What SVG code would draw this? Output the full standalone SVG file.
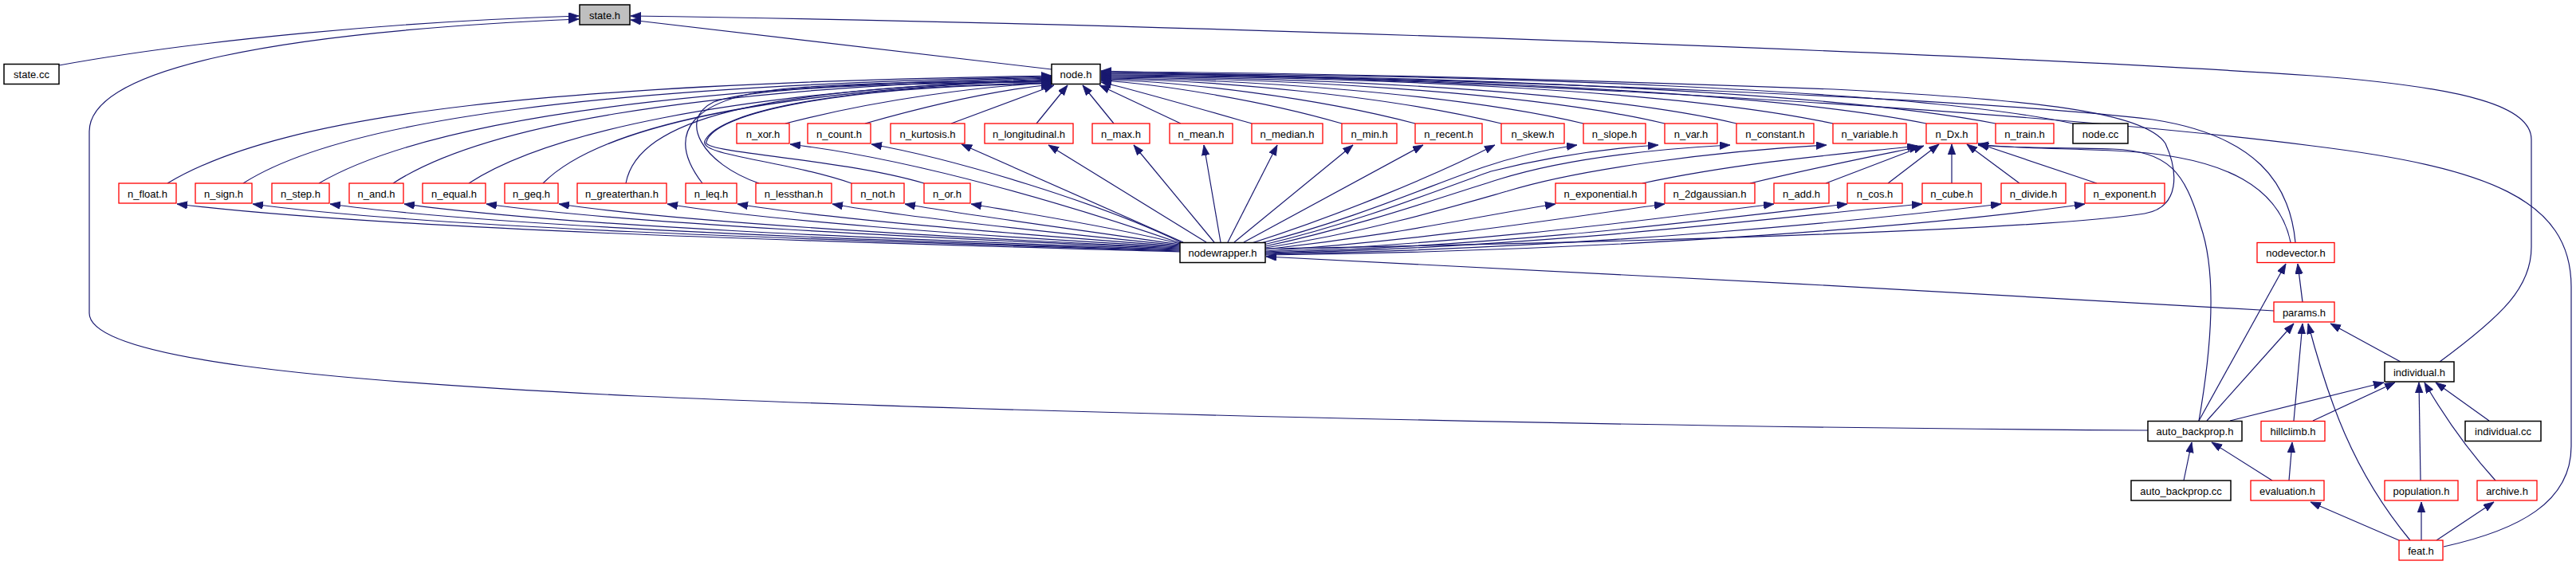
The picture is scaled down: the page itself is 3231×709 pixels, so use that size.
<svg xmlns="http://www.w3.org/2000/svg" width="3231" height="709" viewBox="0 0 3231 709">
<style>
.e{fill:none;stroke:#191970;stroke-width:1.2;marker-end:url(#ah)}
.nb{fill:#ffffff;stroke:#000000;stroke-width:1.5}
.ng{fill:#bfbfbf;stroke:#000000;stroke-width:1.5}
.nr{fill:#ffffff;stroke:#ff0000;stroke-width:1.3}
text{font-family:"Liberation Sans",Arial,Helvetica,sans-serif;font-size:13px;fill:#000000;text-anchor:middle}
</style>
<defs>
<marker id="ah" markerUnits="userSpaceOnUse" markerWidth="14" markerHeight="11" refX="13" refY="4.75" orient="auto">
<path d="M0,0 L13,4.75 L0,9.5 Z" fill="#191970" stroke="#191970" stroke-width="0.8"/>
</marker>
</defs>
<rect width="3231" height="709" fill="#ffffff"/>
<g id="edges">
<!-- to state.h -->
<path class="e" d="M74,82 C250,50 500,27 726,20"/>
<path class="e" d="M2694,540 C2000,536 1200,515 800,497 C400,478 112,450 112,393 L112,165 C112,85 350,40 726,24"/>
<path class="e" d="M1319,87 L791,25"/>
<path class="e" d="M3060,454 C3140,395 3175,360 3175,310 L3175,175 C3175,135 3100,110 2900,95 C2500,68 1500,30 791,20"/>
<!-- to node.h from left -->
<path class="e" d="M210,230 C360,140 700,105 1319,95"/>
<path class="e" d="M305,230 C430,150 750,108 1319,96"/>
<path class="e" d="M400,230 C520,160 800,110 1319,97"/>
<path class="e" d="M493,230 C600,160 850,112 1319,98"/>
<path class="e" d="M588,230 C680,170 900,115 1319,99"/>
<path class="e" d="M681,230 C750,160 950,115 1319,100"/>
<path class="e" d="M785,230 C800,150 950,110 1319,101"/>
<path class="e" d="M881,230 C835,170 860,120 1000,110 S1250,104 1319,102"/>
<path class="e" d="M952,230 C880,205 850,150 895,128 C950,108 1150,104 1319,103"/>
<path class="e" d="M1068,230 C980,200 870,195 885,175 C905,140 1050,108 1319,104"/>
<path class="e" d="M1159,230 C1050,198 878,192 886,178 C895,142 1050,108 1319,105"/>
<path class="e" d="M985,155 C1100,125 1230,108 1319,104"/>
<path class="e" d="M1085,155 C1180,128 1260,112 1319,106"/>
<path class="e" d="M1193,155 L1322,107"/>
<path class="e" d="M1300,155 L1339,107"/>
<path class="e" d="M1397,155 L1358,107"/>
<!-- to node.h from right -->
<path class="e" d="M1481,155 L1379,107"/>
<path class="e" d="M1570,155 C1500,135 1420,112 1381,103"/>
<path class="e" d="M1683,155 C1580,125 1450,105 1381,101"/>
<path class="e" d="M1775,155 C1650,122 1480,102 1381,100"/>
<path class="e" d="M1883,155 C1740,120 1520,100 1381,99"/>
<path class="e" d="M1986,155 C1830,118 1560,99 1381,98"/>
<path class="e" d="M2088,155 C1920,115 1600,98 1381,97"/>
<path class="e" d="M2178,155 C2000,113 1640,97 1381,96"/>
<path class="e" d="M2299,155 C2100,112 1700,96 1381,95"/>
<path class="e" d="M2416,155 C2200,112 1750,96 1381,94"/>
<path class="e" d="M2503,155 C2300,115 1800,94 1381,93"/>
<path class="e" d="M2600,155 C2400,112 1850,93 1381,92"/>
<path class="e" d="M2879,304 C2872,230 2830,170 2700,150 C2500,125 1900,100 1381,91"/>
<path class="e" d="M1588,312 C2000,305 2550,290 2690,268 C2735,260 2732,215 2716,180 C2690,140 2550,125 2300,112 C1900,97 1600,91 1381,90"/>
<path class="e" d="M3065,686 C3160,665 3225,630 3225,560 L3225,360 C3225,250 3120,210 2900,183 C2600,145 2000,105 1381,89"/>
<!-- nodewrapper.h to left row3 -->
<path class="e" d="M1480,316 C1100,305 500,290 222,256"/>
<path class="e" d="M1480,315 C1100,303 550,288 317,256"/>
<path class="e" d="M1480,314 C1100,302 620,285 414,256"/>
<path class="e" d="M1480,313 C1100,300 700,283 507,256"/>
<path class="e" d="M1480,312 C1150,298 780,280 610,256"/>
<path class="e" d="M1480,311 C1150,296 850,278 701,256"/>
<path class="e" d="M1480,310 C1200,295 950,275 837,256"/>
<path class="e" d="M1480,309 C1250,292 1020,272 925,256"/>
<path class="e" d="M1480,308 C1300,290 1120,270 1044,256"/>
<path class="e" d="M1480,307 C1350,288 1200,268 1135,256"/>
<path class="e" d="M1480,306 C1400,285 1270,265 1218,256"/>
<!-- nodewrapper.h to row2 -->
<path class="e" d="M1480,305 C1350,260 1150,200 991,181"/>
<path class="e" d="M1481,304 C1380,255 1200,200 1093,181"/>
<path class="e" d="M1484,304 L1206,181"/>
<path class="e" d="M1513,304 L1315,182"/>
<path class="e" d="M1523,304 L1422,182"/>
<path class="e" d="M1531,304 L1510,182"/>
<path class="e" d="M1540,304 L1602,182"/>
<path class="e" d="M1548,304 L1697,182"/>
<path class="e" d="M1560,304 L1785,182"/>
<path class="e" d="M1570,305 C1680,270 1800,220 1875,182"/>
<path class="e" d="M1578,306 C1700,275 1800,230 1860,210 C1910,193 1950,186 1978,182"/>
<path class="e" d="M1585,307 C1700,280 1800,240 1870,215 C1950,195 2020,186 2080,182"/>
<path class="e" d="M1587,309 C1700,285 1800,250 1880,225 C1960,200 2060,188 2170,182"/>
<path class="e" d="M1587,311 C1720,290 1820,260 1890,240 C1980,212 2150,190 2291,182"/>
<!-- nodewrapper.h to right row3 -->
<path class="e" d="M1587,313 C1750,295 1850,272 1951,256"/>
<path class="e" d="M1587,315 C1800,300 1950,275 2088,256"/>
<path class="e" d="M1587,316 C1850,305 2050,278 2225,256"/>
<path class="e" d="M1587,317 C1900,308 2150,275 2317,256"/>
<path class="e" d="M1587,318 C1950,310 2250,270 2411,256"/>
<path class="e" d="M1587,319 C2000,312 2350,275 2510,256"/>
<path class="e" d="M1587,320 C2050,315 2450,280 2615,256"/>
<!-- to n_Dx.h -->
<path class="e" d="M2060,230 C2200,200 2350,190 2405,183"/>
<path class="e" d="M2195,230 C2300,205 2370,192 2408,184"/>
<path class="e" d="M2290,230 L2413,183"/>
<path class="e" d="M2368,230 L2432,181"/>
<path class="e" d="M2448,230 L2448,181"/>
<path class="e" d="M2533,230 L2467,181"/>
<path class="e" d="M2630,230 L2481,180"/>
<path class="e" d="M2873,304 C2860,240 2800,195 2650,189 C2580,186 2520,186 2481,181"/>
<path class="e" d="M2758,528 C2775,430 2780,340 2760,283 C2740,215 2720,190 2650,187 C2580,185 2520,186 2481,182"/>
<!-- params.h to nodewrapper.h -->
<path class="e" d="M2852,390 C2500,370 1900,335 1588,322"/>
<!-- lower part -->
<path class="e" d="M2888,379 L2882,331"/>
<path class="e" d="M2758,528 L2867,331"/>
<path class="e" d="M2768,528 L2877,406"/>
<path class="e" d="M2877,528 L2888,406"/>
<path class="e" d="M3023,678 C2950,590 2920,500 2895,406"/>
<path class="e" d="M3011,454 L2923,406"/>
<path class="e" d="M2797,528 L2990,480"/>
<path class="e" d="M2901,528 L3004,480"/>
<path class="e" d="M3036,603 L3034,480"/>
<path class="e" d="M3130,603 C3100,570 3070,530 3041,480"/>
<path class="e" d="M3122,528 L3055,480"/>
<path class="e" d="M2739,603 L2749,555"/>
<path class="e" d="M2850,603 L2774,555"/>
<path class="e" d="M2871,603 L2875,555"/>
<path class="e" d="M3009,678 L2898,630"/>
<path class="e" d="M3037,678 L3037,630"/>
<path class="e" d="M3056,678 L3128,630"/>
</g>
<g id="state_h"><rect class="ng" x="727" y="6" width="63" height="25"/><text x="758.5" y="23.5">state.h</text></g>
<g id="state_cc"><rect class="nb" x="5" y="80.5" width="69" height="25"/><text x="39.5" y="98">state.cc</text></g>
<g id="node_h"><rect class="nb" x="1319" y="80.5" width="61" height="25"/><text x="1349.5" y="98">node.h</text></g>
<g id="n_xor_h"><rect class="nr" x="924" y="155" width="66" height="25"/><text x="957" y="172.5">n_xor.h</text></g>
<g id="n_count_h"><rect class="nr" x="1013" y="155" width="79" height="25"/><text x="1052.5" y="172.5">n_count.h</text></g>
<g id="n_kurtosis_h"><rect class="nr" x="1117" y="155" width="93" height="25"/><text x="1163.5" y="172.5">n_kurtosis.h</text></g>
<g id="n_longitudinal_h"><rect class="nr" x="1235" y="155" width="111" height="25"/><text x="1290.5" y="172.5">n_longitudinal.h</text></g>
<g id="n_max_h"><rect class="nr" x="1370" y="155" width="72" height="25"/><text x="1406" y="172.5">n_max.h</text></g>
<g id="n_mean_h"><rect class="nr" x="1467" y="155" width="79" height="25"/><text x="1506.5" y="172.5">n_mean.h</text></g>
<g id="n_median_h"><rect class="nr" x="1570" y="155" width="89" height="25"/><text x="1614.5" y="172.5">n_median.h</text></g>
<g id="n_min_h"><rect class="nr" x="1683" y="155" width="69" height="25"/><text x="1717.5" y="172.5">n_min.h</text></g>
<g id="n_recent_h"><rect class="nr" x="1775" y="155" width="84" height="25"/><text x="1817" y="172.5">n_recent.h</text></g>
<g id="n_skew_h"><rect class="nr" x="1883" y="155" width="79" height="25"/><text x="1922.5" y="172.5">n_skew.h</text></g>
<g id="n_slope_h"><rect class="nr" x="1986" y="155" width="78" height="25"/><text x="2025" y="172.5">n_slope.h</text></g>
<g id="n_var_h"><rect class="nr" x="2088" y="155" width="66" height="25"/><text x="2121" y="172.5">n_var.h</text></g>
<g id="n_constant_h"><rect class="nr" x="2178" y="155" width="97" height="25"/><text x="2226.5" y="172.5">n_constant.h</text></g>
<g id="n_variable_h"><rect class="nr" x="2299" y="155" width="92" height="25"/><text x="2345" y="172.5">n_variable.h</text></g>
<g id="n_Dx_h"><rect class="nr" x="2416" y="155" width="64" height="25"/><text x="2448" y="172.5">n_Dx.h</text></g>
<g id="n_train_h"><rect class="nr" x="2503" y="155" width="73" height="25"/><text x="2539.5" y="172.5">n_train.h</text></g>
<g id="node_cc"><rect class="nb" x="2600" y="155" width="69" height="25"/><text x="2634.5" y="172.5">node.cc</text></g>
<g id="n_float_h"><rect class="nr" x="149" y="230" width="72" height="25"/><text x="185" y="247.5">n_float.h</text></g>
<g id="n_sign_h"><rect class="nr" x="245" y="230" width="71" height="25"/><text x="280.5" y="247.5">n_sign.h</text></g>
<g id="n_step_h"><rect class="nr" x="341" y="230" width="72" height="25"/><text x="377" y="247.5">n_step.h</text></g>
<g id="n_and_h"><rect class="nr" x="438" y="230" width="68" height="25"/><text x="472" y="247.5">n_and.h</text></g>
<g id="n_equal_h"><rect class="nr" x="530" y="230" width="79" height="25"/><text x="569.5" y="247.5">n_equal.h</text></g>
<g id="n_geq_h"><rect class="nr" x="633" y="230" width="67" height="25"/><text x="666.5" y="247.5">n_geq.h</text></g>
<g id="n_greaterthan_h"><rect class="nr" x="724" y="230" width="112" height="25"/><text x="780" y="247.5">n_greaterthan.h</text></g>
<g id="n_leq_h"><rect class="nr" x="860" y="230" width="64" height="25"/><text x="892" y="247.5">n_leq.h</text></g>
<g id="n_lessthan_h"><rect class="nr" x="948" y="230" width="95" height="25"/><text x="995.5" y="247.5">n_lessthan.h</text></g>
<g id="n_not_h"><rect class="nr" x="1068" y="230" width="66" height="25"/><text x="1101" y="247.5">n_not.h</text></g>
<g id="n_or_h"><rect class="nr" x="1159" y="230" width="58" height="25"/><text x="1188" y="247.5">n_or.h</text></g>
<g id="n_exponential_h"><rect class="nr" x="1951" y="230" width="113" height="25"/><text x="2007.5" y="247.5">n_exponential.h</text></g>
<g id="n_2dgaussian_h"><rect class="nr" x="2088" y="230" width="113" height="25"/><text x="2144.5" y="247.5">n_2dgaussian.h</text></g>
<g id="n_add_h"><rect class="nr" x="2225" y="230" width="69" height="25"/><text x="2259.5" y="247.5">n_add.h</text></g>
<g id="n_cos_h"><rect class="nr" x="2317" y="230" width="69" height="25"/><text x="2351.5" y="247.5">n_cos.h</text></g>
<g id="n_cube_h"><rect class="nr" x="2411" y="230" width="74" height="25"/><text x="2448" y="247.5">n_cube.h</text></g>
<g id="n_divide_h"><rect class="nr" x="2510" y="230" width="81" height="25"/><text x="2550.5" y="247.5">n_divide.h</text></g>
<g id="n_exponent_h"><rect class="nr" x="2615" y="230" width="100" height="25"/><text x="2665" y="247.5">n_exponent.h</text></g>
<g id="nodewrapper_h"><rect class="nb" x="1480" y="304.5" width="107" height="25"/><text x="1533.5" y="322">nodewrapper.h</text></g>
<g id="nodevector_h"><rect class="nr" x="2831" y="304.5" width="97" height="25"/><text x="2879.5" y="322">nodevector.h</text></g>
<g id="params_h"><rect class="nr" x="2852" y="379" width="76" height="25"/><text x="2890" y="396.5">params.h</text></g>
<g id="individual_h"><rect class="nb" x="2991" y="454" width="87" height="25"/><text x="3034.5" y="471.5">individual.h</text></g>
<g id="auto_backprop_h"><rect class="nb" x="2694" y="528.5" width="118" height="25"/><text x="2753" y="546">auto_backprop.h</text></g>
<g id="hillclimb_h"><rect class="nr" x="2836" y="528.5" width="80" height="25"/><text x="2876" y="546">hillclimb.h</text></g>
<g id="individual_cc"><rect class="nb" x="3092" y="528.5" width="95" height="25"/><text x="3139.5" y="546">individual.cc</text></g>
<g id="auto_backprop_cc"><rect class="nb" x="2673" y="603" width="125" height="25"/><text x="2735.5" y="620.5">auto_backprop.cc</text></g>
<g id="evaluation_h"><rect class="nr" x="2823" y="603" width="92" height="25"/><text x="2869" y="620.5">evaluation.h</text></g>
<g id="population_h"><rect class="nr" x="2991" y="603" width="92" height="25"/><text x="3037" y="620.5">population.h</text></g>
<g id="archive_h"><rect class="nr" x="3107" y="603" width="75" height="25"/><text x="3144.5" y="620.5">archive.h</text></g>
<g id="feat_h"><rect class="nr" x="3009" y="678" width="55" height="25"/><text x="3036.5" y="695.5">feat.h</text></g>
</svg>
